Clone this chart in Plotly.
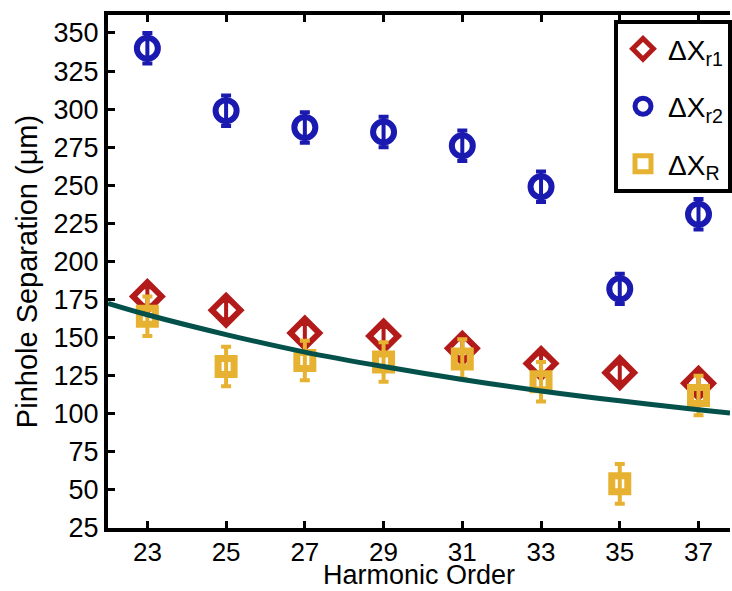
import plotly.graph_objects as go

# Harmonic orders and measured pinhole separations (µm)
harmonics = [23, 25, 27, 29, 31, 33, 35, 37]
dx_r1 = [177, 168, 153, 151, 143, 133, 127, 120]
dx_r1_err = [6, 6, 6, 6, 6, 6, 6, 6]
dx_r2 = [340, 299, 288, 285, 276, 249, 182, 231]
dx_r2_err = [10, 10, 10, 10, 10, 10, 10, 10]
dx_R = [164, 131, 135, 134, 136, 121, 54, 112]
dx_R_err = [13, 13, 13, 13, 13, 13, 13, 13]

# Model curve sampled along the harmonic axis
model_q = [22, 23, 25, 27, 29, 31, 33, 35, 37, 37.8]
model_dx = [172.5, 165, 152, 140.5, 131, 122.5, 115, 108.5, 102.7, 100.5]

tick_vals_y = [25, 50, 75, 100, 125, 150, 175, 200, 225, 250, 275, 300, 325, 350]

RED = "#b31b1b"
BLUE = "#1a1ab0"
YELLOW = "#e7b231"
TEAL = "#04504a"

FAMILY = "Liberation Sans, Arial, sans-serif"

fig = go.Figure()

fig.add_trace(go.Scatter(
    x=harmonics, y=dx_r2, mode="markers", name="ΔX<sub>r2</sub>",
    legendrank=2, legendgroup="r2",
    marker=dict(symbol="circle-open", size=21, color=BLUE, line=dict(width=6, color=BLUE)),
    error_y=dict(type="data", array=dx_r2_err, color=BLUE, thickness=4, width=5),
))
fig.add_trace(go.Scatter(
    x=harmonics, y=dx_r1, mode="markers", name="ΔX<sub>r1</sub>",
    legendrank=1, legendgroup="r1",
    marker=dict(symbol="diamond-open", size=22, color=RED, line=dict(width=6, color=RED)),
    error_y=dict(type="data", array=dx_r1_err, color=RED, thickness=4, width=5),
))
fig.add_trace(go.Scatter(
    x=harmonics, y=dx_R, mode="markers", name="ΔX<sub>R</sub>",
    legendrank=3, legendgroup="R",
    marker=dict(symbol="square-open", size=16, color=YELLOW, line=dict(width=7, color=YELLOW)),
    error_y=dict(type="data", array=dx_R_err, color=YELLOW, thickness=4, width=5),
))
fig.add_trace(go.Scatter(
    x=model_q, y=model_dx, mode="lines", showlegend=False,
    line=dict(color=TEAL, width=5, shape="spline"),
))

tick_font = dict(family=FAMILY, size=27, color="black")
xtick_font = dict(family=FAMILY, size=26, color="black")
title_font = dict(family=FAMILY, size=29, color="black")
xtitle_font = dict(family=FAMILY, size=27, color="black")

fig.update_layout(
    width=732, height=591,
    margin=dict(l=108, r=0, t=15, b=63),
    paper_bgcolor="white", plot_bgcolor="white",
    font=tick_font,
    xaxis=dict(
        range=[22, 37.8], tickvals=harmonics, ticks="inside", ticklen=7, tickwidth=3,
        tickcolor="black", showline=True, linewidth=4, linecolor="black", mirror="ticks",
        showgrid=False, zeroline=False, tickfont=xtick_font, ticklabelstandoff=-2,
    ),
    yaxis=dict(
        range=[25, 361.8], tickvals=tick_vals_y, ticks="inside", ticklen=7, tickwidth=3,
        tickcolor="black", showline=True, linewidth=4, linecolor="black",
        showgrid=False, zeroline=False, tickfont=tick_font,
        title=dict(text="Pinhole Separation (μm)", font=title_font, standoff=8),
    ),
    legend=dict(
        x=0.814, y=0.99, xanchor="left", yanchor="top",
        bgcolor="white", bordercolor="black", borderwidth=4,
        font=dict(family=FAMILY, size=28, color="black"),
        traceorder="grouped", tracegroupgap=18, itemwidth=40,
    ),
    annotations=[dict(
        text="Harmonic Order", xref="paper", yref="paper",
        x=0.5, y=-0.092, xanchor="center", yanchor="middle",
        showarrow=False, font=xtitle_font,
    )],
)

fig.write_html("out.html")
